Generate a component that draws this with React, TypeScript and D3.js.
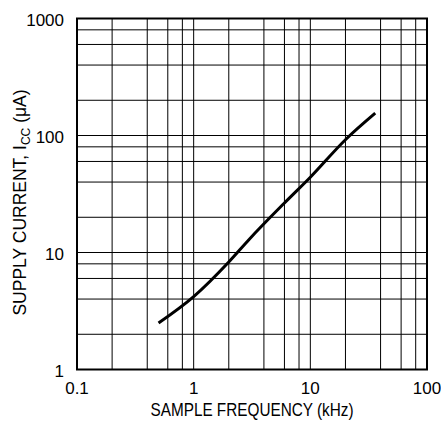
import React from "react";
import * as d3 from "d3";

const freqKHz = [0.5, 1, 2, 3, 6, 10, 20, 36];
const currentUA = [2.5, 4.2, 8.3, 13, 26.5, 44, 92, 155];
const xTicks = [0.1, 1, 10, 100];
const yTicks = [1, 10, 100, 1000];
const xTickLabels = ["0.1", "1", "10", "100"];
const yTickLabels = ["1", "10", "100", "1000"];
const gridMultipliers = [2, 4, 6, 8];

const W = 441;
const H = 421;
const left = 77;
const right = 427;
const top = 18.5;
const bottom = 369.5;
const FONT = "'Liberation Sans', Arial, Helvetica, sans-serif";

export default function App() {
  const x = d3.scaleLog().domain([0.1, 100]).range([left, right]);
  const y = d3.scaleLog().domain([1, 1000]).range([bottom, top]);

  const xGrid: number[] = [];
  [0.1, 1, 10].forEach((d) => {
    if (d > 0.1) xGrid.push(d);
    gridMultipliers.forEach((m) => xGrid.push(d * m));
  });
  const yGrid: number[] = [];
  [1, 10, 100].forEach((d) => {
    if (d > 1) yGrid.push(d);
    gridMultipliers.forEach((m) => yGrid.push(d * m));
  });

  const pts: [number, number][] = freqKHz.map((f, i) => [x(f), y(currentUA[i])]);
  const line = d3.line().curve(d3.curveMonotoneX)(pts) || "";

  return (
    <svg width={W} height={H} style={{ position: "absolute", left: 0, top: 0, background: "#fff" }} fontFamily={FONT}>
      <rect x={0} y={0} width={W} height={H} fill="#fff" />
      {xGrid.map((v, i) => (
        <line key={"xg" + i} x1={x(v)} x2={x(v)} y1={top} y2={bottom} stroke="#000" strokeWidth={1} />
      ))}
      {yGrid.map((v, i) => (
        <line key={"yg" + i} x1={left} x2={right} y1={y(v)} y2={y(v)} stroke="#000" strokeWidth={1} />
      ))}
      <rect x={left} y={top} width={right - left} height={bottom - top} fill="none" stroke="#000" strokeWidth={2} />
      <path d={line} fill="none" stroke="#000" strokeWidth={3} />
      {xTicks.map((v, i) => (
        <text key={"xt" + i} x={x(v)} y={394} textAnchor="middle" fontSize={17} fill="#000">
          {xTickLabels[i]}
        </text>
      ))}
      {yTicks.map((v, i) => (
        <text key={"yt" + i} x={64} y={y(v) + 7} textAnchor="end" fontSize={17} fill="#000">
          {yTickLabels[i]}
        </text>
      ))}
      <text
        x={(left + right) / 2}
        y={416}
        textAnchor="middle"
        fontSize={18}
        fill="#000"
        textLength={203}
        lengthAdjust="spacingAndGlyphs"
      >
        SAMPLE FREQUENCY (kHz)
      </text>
      <text
        transform={`translate(26, 202.5) rotate(-90)`}
        textAnchor="middle"
        fontSize={17.5}
        fill="#000"
      >
        SUPPLY CURRENT, I<tspan fontSize={12} dy={4}>CC</tspan>
        <tspan dy={-4}> (μA)</tspan>
      </text>
    </svg>
  );
}
